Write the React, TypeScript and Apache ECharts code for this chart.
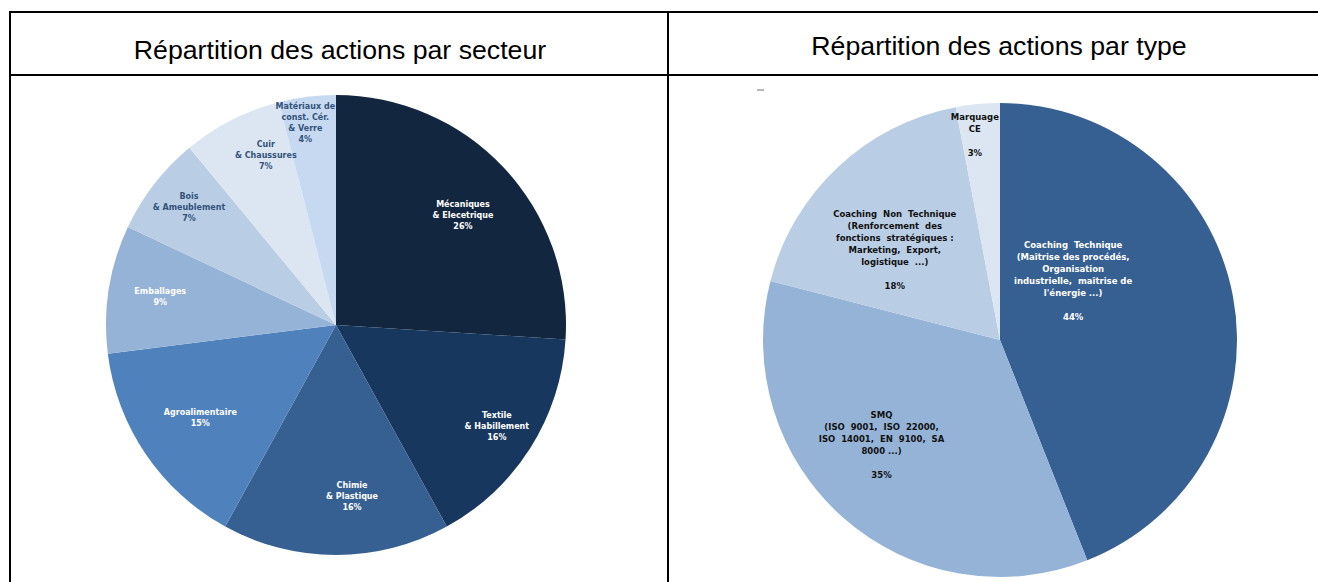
import React, { useEffect, useRef } from "react";
import * as echarts from "echarts";

const titleSecteur = "Répartition des actions par secteur";
const titleType = "Répartition des actions par type";

const sectorNames = [
  "Mécaniques\n& Elecetrique",
  "Textile\n& Habillement",
  "Chimie\n& Plastique",
  "Agroalimentaire",
  "Emballages",
  "Bois\n& Ameublement",
  "Cuir\n& Chaussures",
  "Matériaux de\nconst. Cér.\n& Verre",
];
const sectorValues = [26, 16, 16, 15, 9, 7, 7, 4];
const sectorColors = ["#13263f", "#18375f", "#366092", "#4f81bd", "#95b3d7", "#b9cde5", "#dce6f2", "#c6d9f1"];
const sectorLabelColors = ["#ffffff", "#ffffff", "#ffffff", "#ffffff", "#ffffff", "#35537a", "#35537a", "#35537a"];

const typeNames = [
  "Coaching  Technique\n(Maîtrise des procédés,\nOrganisation\nindustrielle,  maîtrise de\nl'énergie ...)",
  "SMQ\n(ISO  9001,  ISO  22000,\nISO  14001,  EN  9100,  SA\n8000 ...)",
  "Coaching  Non  Technique\n(Renforcement  des\nfonctions  stratégiques :\nMarketing,  Export,\nlogistique  ...)",
  "Marquage\nCE",
];
const typeValues = [44, 35, 18, 3];
const typeColors = ["#376092", "#95b3d7", "#b9cde5", "#dce6f2"];
const typeLabelColors = ["#ffffff", "#111111", "#111111", "#111111"];
// small label nudges (label placement fine-tuning, px)
const typeLabelNudge = [[-85, -29], [-12, -16], [5, 27], [-10, -45]];
const sectorLabelNudge = [[-5, 14], [8, 5], [16, -10], [14, -9], [3, 0], [-4, -7], [12, -8], [-8, -22]];

export default function App() {
  const ref = useRef<HTMLDivElement>(null);
  useEffect(() => {
    if (!ref.current) return;
    const chart = echarts.init(ref.current, null, { renderer: "svg" });
    const labelFont = "DejaVu Sans";
    const c1: [number, number] = [336, 325];
    const R1 = 230;
    const c2: [number, number] = [1000, 340];
    const R2 = 237;

    const line = (x1: number, y1: number, x2: number, y2: number) => ({
      type: "line",
      shape: { x1, y1, x2, y2 },
      style: { stroke: "#000", lineWidth: 2 },
      silent: true,
    });

    chart.setOption({
      animation: false,
      backgroundColor: "#ffffff",
      graphic: [
        line(9, 12, 1318, 12),
        line(9, 75, 1318, 75),
        line(10, 11, 10, 582),
        line(668, 11, 668, 582),
        {
          type: "line",
          shape: { x1: 757, y1: 90, x2: 764, y2: 90 },
          style: { stroke: "#a0a0a0", lineWidth: 1.5 },
          silent: true,
        },
        {
          type: "text",
          x: 340,
          y: 50,
          style: {
            text: titleSecteur,
            font: '26.7px "Liberation Sans", Arial, sans-serif',
            fill: "#000",
            textAlign: "center",
            textVerticalAlign: "middle",
          },
        },
        {
          type: "text",
          x: 999,
          y: 46,
          style: {
            text: titleType,
            font: '26.7px "Liberation Sans", Arial, sans-serif',
            fill: "#000",
            textAlign: "center",
            textVerticalAlign: "middle",
          },
        },
      ],
      series: [
        {
          type: "pie",
          center: c1,
          radius: [0, R1],
          startAngle: 90,
          clockwise: true,
          silent: true,
          label: { show: false },
          labelLine: { show: false },
          data: sectorNames.map((n, i) => ({ name: n, value: sectorValues[i], itemStyle: { color: sectorColors[i] } })),
        },
        {
          type: "pie",
          center: c1,
          radius: [126, R1],
          startAngle: 90,
          clockwise: true,
          silent: true,
          itemStyle: { color: "rgba(0,0,0,0)" },
          labelLine: { show: false },
          label: {
            show: true,
            position: "inside",
            formatter: "{b}\n{c}%",
            fontFamily: labelFont,
            fontWeight: "bold",
            fontSize: 8,
            lineHeight: 11,
            align: "center",
          },
          labelLayout: (p: any) => ({ dx: sectorLabelNudge[p.dataIndex][0], dy: sectorLabelNudge[p.dataIndex][1] }),
          data: sectorNames.map((n, i) => ({
            name: n,
            value: sectorValues[i],
            label: { color: sectorLabelColors[i] },
          })),
        },
        {
          type: "pie",
          center: c2,
          radius: [0, R2],
          startAngle: 90,
          clockwise: true,
          silent: true,
          label: { show: false },
          labelLine: { show: false },
          data: typeNames.map((n, i) => ({ name: n, value: typeValues[i], itemStyle: { color: typeColors[i] } })),
        },
        {
          type: "pie",
          center: c2,
          radius: [79, R2],
          startAngle: 90,
          clockwise: true,
          silent: true,
          itemStyle: { color: "rgba(0,0,0,0)" },
          labelLine: { show: false },
          label: {
            show: true,
            position: "inside",
            formatter: "{b}\n\n{c}%",
            fontFamily: labelFont,
            fontWeight: "bold",
            fontSize: 8.5,
            lineHeight: 12,
            align: "center",
          },
          labelLayout: (p: any) => ({ dx: typeLabelNudge[p.dataIndex][0], dy: typeLabelNudge[p.dataIndex][1] }),
          data: typeNames.map((n, i) => ({
            name: n,
            value: typeValues[i],
            label: { color: typeLabelColors[i] },
          })),
        },
      ],
    });
    return () => chart.dispose();
  }, []);
  return (
    <div
      ref={ref}
      style={{ position: "absolute", left: 0, top: 0, width: 1318, height: 582 }}
    />
  );
}
